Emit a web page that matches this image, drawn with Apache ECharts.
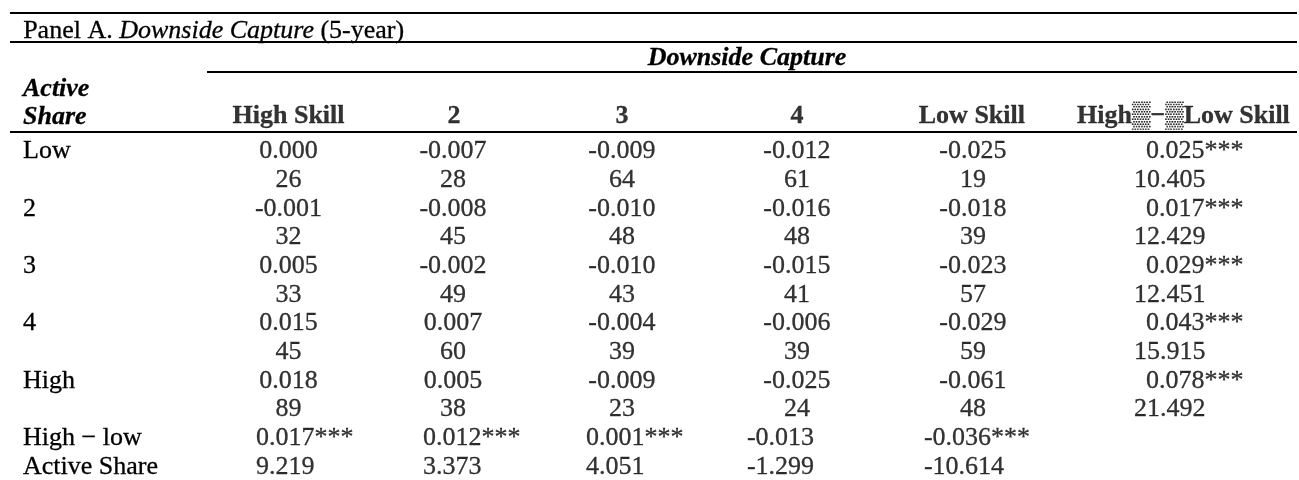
<!DOCTYPE html>
<html>
<head>
<meta charset="utf-8">
<script src="https://cdn.jsdelivr.net/npm/echarts@6/dist/echarts.min.js"></script>
<style>
  html, body { margin: 0; padding: 0; background: #fff; }
  #chart { width: 1299px; height: 480px; }
</style>
</head>
<body>
<div id="chart"></div>
<script>
// ---------------- data ----------------
const skillCols = ['High Skill', '2', '3', '4', 'Low Skill', 'High\u2592\u2212\u2592Low Skill'];
const activeShareRows = ['Low', '2', '3', '4', 'High'];
const extraRows = ['High \u2212 low', 'Active Share'];

const downsideCapture = [
  [0.000, -0.007, -0.009, -0.012, -0.025, 0.025],
  [-0.001, -0.008, -0.010, -0.016, -0.018, 0.017],
  [0.005, -0.002, -0.010, -0.015, -0.023, 0.029],
  [0.015, 0.007, -0.004, -0.006, -0.029, 0.043],
  [0.018, 0.005, -0.009, -0.025, -0.061, 0.078]
];
const fundCounts = [
  [26, 28, 64, 61, 19],
  [32, 45, 48, 48, 39],
  [33, 49, 43, 41, 57],
  [45, 60, 39, 39, 59],
  [89, 38, 23, 24, 48]
];
const hmlSkillT = [10.405, 12.429, 12.451, 15.915, 21.492];
const hmlSkillStars = ['***', '***', '***', '***', '***'];
const hmlActive = [0.017, 0.012, 0.001, -0.013, -0.036];
const hmlActiveStars = ['***', '***', '***', '', '***'];
const hmlActiveT = [9.219, 3.373, 4.051, -1.299, -10.614];

const panelTitle = ['Panel A. ', 'Downside Capture', ' (5-year)'];
const spanHeader = 'Downside Capture';
const rowHeader = ['Active', 'Share'];

// ---------------- layout / style ----------------
const FONT = '"Liberation Serif", "Times New Roman", Times, serif';
const FS = 26;
const INK = { color: '#000', textBorderColor: '#000', textBorderWidth: 0.3 };
const colNudge = [0, -6.6, -8.8, -4.9, 0];
const bottomStart = [-32.5, -36.6, -44.8, -54.9, -49];
const headerNudge = [0, -5.6, -8.8, -4.9, -1, 39.5];
const GRID_LEFT = 203, GRID_RIGHT = 69.5;
const ROW_TOP = 151.5, ROW_H = 29.25;

// y categories: value row, count row for each active share group, then the two summary rows
const yRows = [];
activeShareRows.forEach((r) => { yRows.push(r); yRows.push(r + '#n'); });
extraRows.forEach((r) => yRows.push(r));

const fmt3 = (v) => v.toFixed(3);
const cells = [];
activeShareRows.forEach((r, ri) => {
  skillCols.forEach((c, ci) => {
    const last = ci === skillCols.length - 1;
    cells.push({
      value: [ci, 2 * ri],
      name: fmt3(downsideCapture[ri][ci]) + (last ? hmlSkillStars[ri] : ''),
      label: last ? { align: 'left', offset: [2, 0] } : { align: 'center', offset: [colNudge[ci], 0] }
    });
    cells.push({
      value: [ci, 2 * ri + 1],
      name: last ? fmt3(hmlSkillT[ri]) : String(fundCounts[ri][ci]),
      label: last ? { align: 'left', offset: [-10, 0] } : { align: 'center', offset: [colNudge[ci], 0] }
    });
  });
});
hmlActive.forEach((v, ci) => {
  cells.push({
    value: [ci, 2 * activeShareRows.length],
    name: fmt3(v) + hmlActiveStars[ci],
    label: { align: 'left', offset: [bottomStart[ci], 0] }
  });
  cells.push({
    value: [ci, 2 * activeShareRows.length + 1],
    name: fmt3(hmlActiveT[ci]),
    label: { align: 'left', offset: [bottomStart[ci], 0] }
  });
});

const headers = skillCols.map((c, ci) => ({
  value: [ci, 0],
  name: c,
  label: { offset: [headerNudge[ci], 0] }
}));

const line = (x1, y, x2, w) => ({
  type: 'line', silent: true,
  shape: { x1: x1, y1: y, x2: x2, y2: y },
  style: { stroke: '#000', lineWidth: w }
});
const gText = (x, y, text, extra) => ({
  type: 'text', x: x, y: y, silent: true,
  style: Object.assign({
    text: text, fontFamily: FONT, fontSize: FS, fill: '#000', stroke: '#000', lineWidth: 0.3,
    align: 'left', verticalAlign: 'middle'
  }, extra || {})
});

const chart = echarts.init(document.getElementById('chart'), null, { renderer: 'canvas' });
chart.setOption({
  animation: false,
  backgroundColor: '#fff',
  grid: [
    { left: GRID_LEFT, right: GRID_RIGHT, top: ROW_TOP, height: ROW_H * (yRows.length - 1), containLabel: false },
    { left: GRID_LEFT, right: GRID_RIGHT, top: 100, height: 32, containLabel: false }
  ],
  xAxis: [
    { type: 'category', gridIndex: 0, data: skillCols, show: false },
    { type: 'category', gridIndex: 1, data: skillCols, show: false }
  ],
  yAxis: [
    {
      type: 'category', gridIndex: 0, data: yRows, inverse: true, boundaryGap: false,
      axisLine: { show: false }, axisTick: { show: false }, splitLine: { show: false },
      axisLabel: Object.assign({
        show: true, interval: 0, align: 'left', margin: GRID_LEFT - 23,
        fontFamily: FONT, fontSize: FS, verticalAlign: 'middle',
        formatter: (v) => (v.indexOf('#') >= 0 ? '' : v)
      }, INK)
    },
    { type: 'category', gridIndex: 1, data: ['hdr'], show: false }
  ],
  series: [
    {
      type: 'scatter', xAxisIndex: 0, yAxisIndex: 0, silent: true,
      symbolSize: 1, itemStyle: { color: 'rgba(0,0,0,0)' },
      label: Object.assign({
        show: true, position: 'inside', formatter: (p) => p.name,
        fontFamily: FONT, fontSize: FS, verticalAlign: 'middle'
      }, INK),
      data: cells
    },
    {
      type: 'scatter', xAxisIndex: 1, yAxisIndex: 1, silent: true,
      symbolSize: 1, itemStyle: { color: 'rgba(0,0,0,0)' },
      label: Object.assign({
        show: true, position: 'inside', formatter: (p) => p.name,
        fontFamily: FONT, fontSize: FS, fontWeight: 'bold', verticalAlign: 'middle'
      }, INK),
      data: headers
    }
  ],
  graphic: [
    line(10, 13, 1297, 2),
    line(10, 42, 1297, 2),
    line(207, 72, 1297, 2),
    line(10, 132, 1297, 2),
    {
      type: 'text', left: 23, top: 18, silent: true,
      style: {
        text: '{r|' + panelTitle[0] + '}{i|' + panelTitle[1] + '}{r|' + panelTitle[2] + '}',
        rich: {
          r: { fontFamily: FONT, fontSize: FS, fill: '#000', stroke: '#000', lineWidth: 0.3 },
          i: { fontFamily: FONT, fontSize: FS, fontStyle: 'italic', fill: '#000', stroke: '#000', lineWidth: 0.3 }
        }
      }
    },
    gText(747, 58, spanHeader, { fontStyle: 'italic', fontWeight: 'bold', align: 'center' }),
    gText(23, 89, rowHeader[0], { fontStyle: 'italic', fontWeight: 'bold' }),
    gText(23, 117, rowHeader[1], { fontStyle: 'italic', fontWeight: 'bold' })
  ]
});
</script>
</body>
</html>
